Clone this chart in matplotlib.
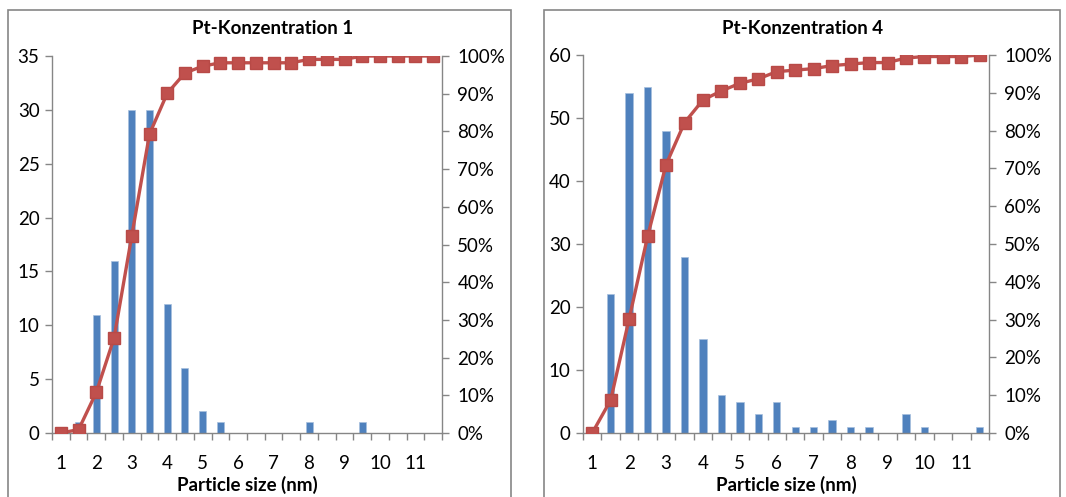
import matplotlib
matplotlib.use("Agg")
import matplotlib.pyplot as plt
from matplotlib.patches import Rectangle
from matplotlib.ticker import FuncFormatter, FixedLocator

plt.rcParams["font.family"] = ["Lato", "DejaVu Sans"]

# =========================================================
# DATA
# =========================================================
sizes = [1, 1.5, 2, 2.5, 3, 3.5, 4, 4.5, 5, 5.5, 6, 6.5,
         7, 7.5, 8, 8.5, 9, 9.5, 10, 10.5, 11, 11.5]
tick_labels = ["1", "2", "3", "4", "5", "6", "7", "8", "9", "10", "11"]

counts_1 = [0, 1, 11, 16, 30, 30, 12, 6, 2, 1, 0, 0,
            0, 0, 1, 0, 0, 1, 0, 0, 0, 0]
cum_1 = [0.0, 0.009, 0.108, 0.252, 0.523, 0.793, 0.901, 0.955, 0.973, 0.982, 0.982, 0.982,
         0.982, 0.982, 0.991, 0.991, 0.991, 1.0, 1.0, 1.0, 1.0, 1.0]

counts_4 = [0, 22, 54, 55, 48, 28, 15, 6, 5, 3, 5, 1,
            1, 2, 1, 1, 0, 3, 1, 0, 0, 1]
cum_4 = [0.0, 0.087, 0.302, 0.520, 0.710, 0.821, 0.881, 0.905, 0.925, 0.937, 0.956, 0.960,
         0.964, 0.972, 0.976, 0.980, 0.980, 0.992, 0.996, 0.996, 0.996, 1.0]

BLUE = "#4F81BD"
RED = "#C0504D"
GRAY = "#868686"
FS = 13.5

W, H = 1066, 497
fig = plt.figure(figsize=(W / 100, H / 100), dpi=100)


def px_axes(x0, y0, x1, y1):
    return fig.add_axes([x0 / W, (H - y1) / H, (x1 - x0) / W, (y1 - y0) / H])


def frame(x0, y0, x1, y1):
    fig.patches.append(Rectangle((x0 / W, (H - y1) / H), (x1 - x0) / W, (y1 - y0) / H,
                                 transform=fig.transFigure, fill=False,
                                 edgecolor=GRAY, linewidth=1.2))


def panel(box, counts, cum, ymax, ystep, title, title_x):
    ax = px_axes(*box)
    x = list(range(len(sizes)))
    ax.bar(x, counts, width=0.4, color=BLUE, edgecolor="#A7BFDE", linewidth=0.5, zorder=2)
    ax.set_xlim(-0.5, len(sizes) - 0.5)
    ax.set_ylim(0, ymax)
    ax.set_yticks(range(0, ymax + 1, ystep))

    ax.xaxis.set_major_locator(FixedLocator(x[::2]))
    ax.set_xticklabels(tick_labels)
    ax.xaxis.set_minor_locator(FixedLocator([i - 0.5 for i in range(len(sizes) + 1)]))
    ax.tick_params(axis="x", which="major", length=0, pad=16, labelsize=FS)
    ax.tick_params(axis="x", which="minor", length=5, width=1, color=GRAY, direction="out")
    ax.tick_params(axis="y", length=5, width=1, color=GRAY, labelsize=FS, pad=4)

    for s in ["top", "right"]:
        ax.spines[s].set_visible(False)
    for s in ["left", "bottom"]:
        ax.spines[s].set_color(GRAY)
        ax.spines[s].set_linewidth(1)

    ax2 = ax.twinx()
    ax2.plot(x, cum, color=RED, linewidth=2.4, marker="s", markersize=9,
             markerfacecolor=RED, markeredgecolor="#B84A47", zorder=3)
    ax2.set_ylim(0, 1)
    ax2.set_yticks([i / 10 for i in range(11)])
    ax2.yaxis.set_major_formatter(FuncFormatter(lambda v, p: f"{v * 100:.0f}%"))
    ax2.tick_params(axis="y", length=5, width=1, color=GRAY, labelsize=FS, pad=6)
    for s in ["top", "left", "bottom"]:
        ax2.spines[s].set_visible(False)
    ax2.spines["right"].set_color(GRAY)
    ax2.spines["right"].set_linewidth(1)
    ax2.set_xlim(-0.5, len(sizes) - 0.5)

    ax.set_xlabel("Particle size (nm)", fontsize=FS, fontweight="bold", labelpad=3)
    fig.text(title_x / W, (H - 28) / H, title, ha="center", va="center",
             fontsize=FS, fontweight="bold")
    return ax


frame(8, 10, 511, 520)
frame(544, 10, 1060, 520)

panel((52, 56, 442, 433), counts_1, cum_1, 35, 5, "Pt-Konzentration 1", 273)
panel((583, 55, 989, 433), counts_4, cum_4, 60, 10, "Pt-Konzentration 4", 803)

fig.savefig("out.png", dpi=100)
